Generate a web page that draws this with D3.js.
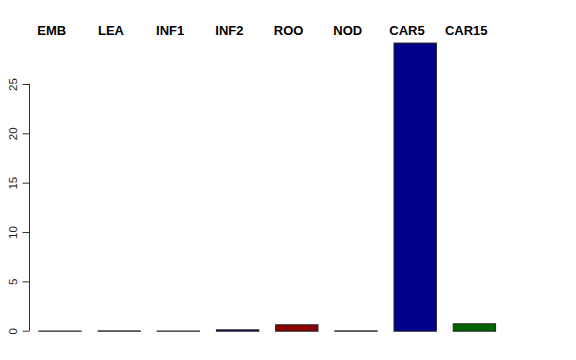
<!DOCTYPE html>
<html>
<head>
<meta charset="utf-8">
<script src="https://cdn.jsdelivr.net/npm/d3@7"></script>
<style>
  body { margin: 0; background: #fff; }
  svg { display: block; font-family: "Liberation Sans", Arial, Helvetica, sans-serif; }
</style>
</head>
<body>
<svg id="chart" width="576" height="360"></svg>
<script>
// Sample names, shown along the top
const samples = ["EMB", "LEA", "INF1", "INF2", "ROO", "NOD", "CAR5", "CAR15"];

// Bar heights
const values = [0.02, 0.03, 0.02, 0.14, 0.65, 0.03, 29.2, 0.75];

// Fill colours per bar
const fills = ["#404040", "#8B0000", "#006400", "#00008B", "#8B0000", "#00008B", "#00008B", "#006400"];

// Y axis ticks
const yTicks = [0, 5, 10, 15, 20, 25];

// Labels sit a little left of the bar centres
const LABEL_SHIFT = -7.7;

const svg = d3.select("#chart");

const x = d3
  .scaleBand()
  .domain(samples)
  .range([29.9, 503.5])
  .paddingInner(0.284)
  .paddingOuter(0.142);

const y = d3.scaleLinear().domain([0, 25]).range([330.7, 84]);

// Bars
svg
  .append("g")
  .selectAll("rect")
  .data(samples)
  .enter()
  .append("rect")
  .attr("x", (d) => x(d) + 0.5)
  .attr("y", (d, i) => y(values[i]) + 0.5)
  .attr("width", x.bandwidth())
  .attr("height", (d, i) => Math.max(y(0) - y(values[i]), 0.01))
  .attr("fill", (d, i) => fills[i])
  .attr("stroke", "#222")
  .attr("stroke-width", 1);

// Y axis on the left
const axis = svg
  .append("g")
  .attr("transform", "translate(29.5,0)")
  .call(d3.axisLeft(y).tickValues(yTicks).tickSize(7));

axis.select(".domain").attr("stroke", "#333").attr("d", `M0,${y(25)}V${y(0)}`);
axis.selectAll(".tick line").attr("stroke", "#333");
axis
  .selectAll(".tick text")
  .attr("fill", "#222")
  .style("font-size", "11.5px")
  .attr("transform", "rotate(-90)")
  .attr("x", 0)
  .attr("y", -12.5)
  .attr("dy", 0)
  .attr("text-anchor", "middle");

// Sample labels along the top
svg
  .append("g")
  .selectAll("text")
  .data(samples)
  .enter()
  .append("text")
  .attr("x", (d) => x(d) + x.bandwidth() / 2 + LABEL_SHIFT)
  .attr("y", 35)
  .attr("text-anchor", "middle")
  .style("font-size", "13px")
  .style("font-weight", "bold")
  .attr("fill", "#000")
  .text((d) => d);
</script>
</body>
</html>
